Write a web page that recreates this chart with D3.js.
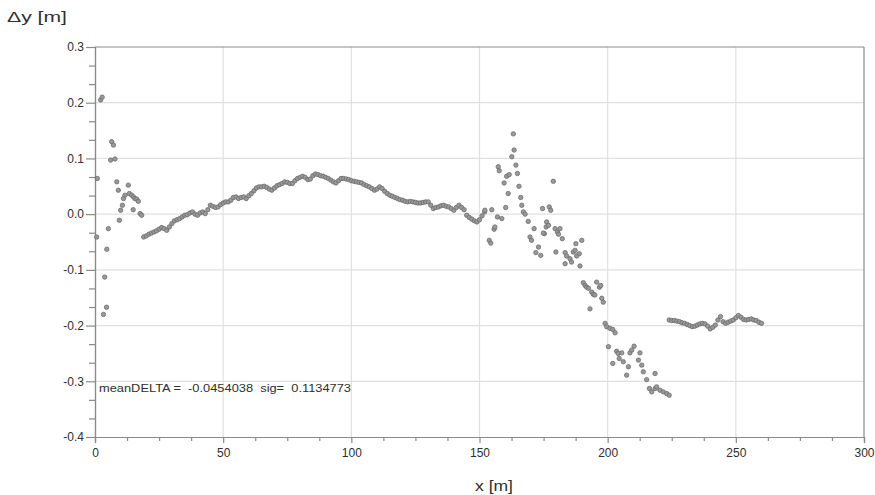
<!DOCTYPE html>
<html>
<head>
<meta charset="utf-8">
<script src="https://cdn.jsdelivr.net/npm/d3@7"></script>
<style>
  html, body { margin: 0; padding: 0; background: #ffffff; }
  svg { display: block; font-family: "Liberation Sans", Arial, sans-serif; }
</style>
</head>
<body>
<svg id="chart" width="875" height="495"></svg>
<script>
// Deviation profile Δy along x, values in metres as [x, Δy]

// erratic start of the profile
const headPoints = [
  [0.65, -0.041], [0.9, 0.064], [2.2, 0.205], [2.8, 0.210], [3.3, -0.180],
  [3.8, -0.113], [4.5, -0.167], [4.6, -0.063], [5.2, -0.026], [6.1, 0.097],
  [6.5, 0.130], [7.2, 0.124], [7.8, 0.099], [8.5, 0.058], [9.1, 0.043],
  [9.5, -0.011], [10.0, 0.007], [10.7, 0.016], [11.1, 0.028], [11.7, 0.034],
  [13.0, 0.052], [13.4, 0.037], [14.3, 0.034], [14.9, 0.008], [15.0, 0.031],
  [15.6, 0.028], [16.3, 0.027], [16.9, 0.023], [17.6, 0.001], [18.2, -0.002]
];

// smooth central stretch
const mainPoints = [
  [19, -0.041], [20, -0.039], [21, -0.036], [22, -0.034], [23, -0.032], [24, -0.030],
  [25, -0.027], [26, -0.024], [27, -0.026], [28, -0.029], [29, -0.023], [30, -0.017],
  [31, -0.012], [32, -0.010], [33, -0.008], [34, -0.005], [35, -0.002], [36, -0.001],
  [37, 0.002], [38, 0.004], [39, 0.000], [40, -0.002], [41, 0.002], [42, 0.004],
  [43, 0.001], [44, 0.008], [45, 0.016], [46, 0.014], [47, 0.012], [48, 0.013],
  [49, 0.017], [50, 0.020], [51, 0.022], [52, 0.022], [53, 0.025], [54, 0.030],
  [55, 0.031], [56, 0.028], [57, 0.030], [58, 0.031], [59, 0.028], [60, 0.033],
  [61, 0.037], [62, 0.042], [63, 0.047], [64, 0.049], [65, 0.049], [66, 0.050],
  [67, 0.048], [68, 0.045], [69, 0.043], [70, 0.047], [71, 0.051], [72, 0.053],
  [73, 0.055], [74, 0.058], [75, 0.057], [76, 0.055], [77, 0.055], [78, 0.060],
  [79, 0.064], [80, 0.066], [81, 0.068], [82, 0.066], [83, 0.062], [84, 0.063],
  [85, 0.069], [86, 0.072], [87, 0.071], [88, 0.069], [89, 0.068], [90, 0.066],
  [91, 0.064], [92, 0.061], [93, 0.058], [94, 0.056], [95, 0.060], [96, 0.064],
  [97, 0.064], [98, 0.063], [99, 0.062], [100, 0.060], [101, 0.059], [102, 0.058],
  [103, 0.057], [104, 0.056], [105, 0.053], [106, 0.051], [107, 0.049], [108, 0.046],
  [109, 0.043], [110, 0.045], [111, 0.049], [112, 0.046], [113, 0.041], [114, 0.037],
  [115, 0.034], [116, 0.032], [117, 0.030], [118, 0.028], [119, 0.026], [120, 0.025],
  [121, 0.023], [122, 0.022], [123, 0.023], [124, 0.022], [125, 0.021], [126, 0.020],
  [127, 0.020], [128, 0.021], [129, 0.022], [130, 0.022], [131, 0.016], [132, 0.010],
  [133, 0.012], [134, 0.013], [135, 0.015], [136, 0.016], [137, 0.014], [138, 0.013],
  [139, 0.010], [140, 0.007], [141, 0.012], [142, 0.016], [143, 0.012], [144, 0.008],
  [145, -0.002], [146, -0.006], [147, -0.009], [148, -0.012], [149, -0.014], [150, -0.010],
  [151, -0.003], [152, 0.004]
];

// scattered descent
const scatterPoints = [
  [152.1, 0.007], [154.8, 0.008], [153.8, -0.047], [154.4, -0.052], [155.7, -0.027],
  [156.0, -0.023], [157.0, -0.005], [158.7, -0.008], [157.3, 0.085], [157.7, 0.078],
  [159.6, 0.056], [160.2, 0.012], [160.6, 0.068], [161.6, 0.071], [161.2, 0.037],
  [162.6, 0.103], [163.2, 0.144], [163.5, 0.115], [164.2, 0.088], [164.8, 0.073],
  [165.4, 0.050], [166.1, 0.030], [166.5, 0.016], [167.1, 0.004], [167.8, 0.000],
  [169.0, -0.013], [169.7, -0.041], [170.3, -0.047], [171.3, -0.026], [172.0, -0.069],
  [173.0, -0.059], [173.9, -0.074], [174.6, 0.010], [175.3, -0.035], [174.9, -0.034],
  [176.0, -0.023], [176.2, -0.014], [176.9, -0.020], [177.2, 0.013], [177.8, 0.007],
  [178.8, 0.059], [179.5, -0.026], [179.8, -0.068], [180.4, -0.032], [180.8, -0.036],
  [181.4, -0.026], [182.3, -0.044], [183.4, -0.069], [183.4, -0.089], [184.0, -0.075],
  [185.3, -0.080], [185.9, -0.086], [186.6, -0.068], [187.3, -0.065], [187.6, -0.053],
  [187.9, -0.075], [188.9, -0.071], [189.2, -0.093], [189.9, -0.047], [190.5, -0.123],
  [191.2, -0.128], [191.8, -0.131], [192.5, -0.133], [193.1, -0.170], [193.8, -0.140],
  [194.4, -0.144], [195.0, -0.145], [195.7, -0.122], [196.8, -0.131], [197.3, -0.128],
  [197.7, -0.151], [198.3, -0.158], [199.0, -0.196], [199.6, -0.202], [200.3, -0.238],
  [200.9, -0.205], [202.0, -0.207], [202.0, -0.268], [202.9, -0.213], [203.5, -0.246],
  [204.1, -0.250], [204.5, -0.259], [205.5, -0.249], [206.1, -0.265], [207.4, -0.289],
  [208.1, -0.274], [208.7, -0.249], [209.4, -0.244], [210.3, -0.237], [212.0, -0.262],
  [212.6, -0.249], [213.3, -0.271], [213.9, -0.283], [215.2, -0.297], [216.3, -0.313],
  [217.2, -0.319], [218.5, -0.313], [218.5, -0.286], [219.1, -0.310], [220.4, -0.316],
  [221.7, -0.319], [223.0, -0.322], [224.0, -0.325]
];

// level stretch at the end
const tailPoints = [
  [224, -0.190], [225, -0.191], [226, -0.191], [227, -0.192], [228, -0.193], [229, -0.195],
  [230, -0.196], [231, -0.198], [232, -0.200], [233, -0.202], [234, -0.201], [235, -0.199],
  [236, -0.197], [237, -0.196], [238, -0.197], [239, -0.201], [240, -0.206], [241, -0.203],
  [242, -0.199], [243, -0.190], [244, -0.184], [245, -0.193], [246, -0.196], [247, -0.194],
  [248, -0.192], [249, -0.190], [250, -0.186], [251, -0.182], [252, -0.185], [253, -0.189],
  [254, -0.190], [255, -0.189], [256, -0.188], [257, -0.190], [258, -0.191], [259, -0.194],
  [260, -0.196]
];

const xTicks = [0, 50, 100, 150, 200, 250, 300];
const xTickLabels = ["0", "50", "100", "150", "200", "250", "300"];
const yTicks = [-0.4, -0.3, -0.2, -0.1, 0.0, 0.1, 0.2, 0.3];
const yTickLabels = ["-0.4", "-0.3", "-0.2", "-0.1", "0.0", "0.1", "0.2", "0.3"];

const yAxisTitle = "\u0394y [m]";
const xAxisTitle = "x [m]";
const statsText = "meanDELTA =  -0.0454038  sig=  0.1134773";

const svg = d3.select("#chart");
const W = 875, H = 495;
const margin = { left: 95, right: 11, top: 47, bottom: 58 };

const x = d3.scaleLinear().domain([0, 300]).range([margin.left, W - margin.right]);
const y = d3.scaleLinear().domain([-0.4, 0.3]).range([H - margin.bottom, margin.top]);

const axisColor = "#8a8a8a";
const gridColor = "#e0e0e0";
const textColor = "#2e2e2e";

// grid
const grid = svg.append("g");
grid.selectAll("line.vx").data(xTicks.slice(1, -1)).join("line")
  .attr("x1", d => x(d)).attr("x2", d => x(d))
  .attr("y1", y(0.3)).attr("y2", y(-0.4))
  .attr("stroke", gridColor).attr("stroke-width", 1.2);
grid.selectAll("line.hy").data(yTicks.slice(1, -1)).join("line")
  .attr("x1", x(0)).attr("x2", x(300))
  .attr("y1", d => y(d)).attr("y2", d => y(d))
  .attr("stroke", gridColor).attr("stroke-width", 1.2);

// frame on top and right
svg.append("line").attr("x1", x(0)).attr("x2", x(300)).attr("y1", y(0.3)).attr("y2", y(0.3))
  .attr("stroke", axisColor).attr("stroke-width", 1.2);
svg.append("line").attr("x1", x(300)).attr("x2", x(300)).attr("y1", y(0.3)).attr("y2", y(-0.4))
  .attr("stroke", axisColor).attr("stroke-width", 1.2);

// minor ticks
const xMinor = d3.range(0, 300.1, 12.5).filter(v => v % 50 !== 0);
const yMinor = d3.range(-12, 10).map(i => i / 30).filter(v => Math.abs(v * 10 - Math.round(v * 10)) > 1e-6);

const xMinorAxis = svg.append("g").attr("transform", `translate(0,${y(-0.4)})`)
  .call(d3.axisBottom(x).tickValues(xMinor).tickSize(4).tickFormat(""));
const yMinorAxis = svg.append("g").attr("transform", `translate(${x(0)},0)`)
  .call(d3.axisLeft(y).tickValues(yMinor).tickSize(6).tickFormat(""));

// major axes
const xAxis = svg.append("g").attr("transform", `translate(0,${y(-0.4)})`)
  .call(d3.axisBottom(x).tickValues(xTicks).tickSize(6).tickPadding(5)
    .tickFormat((d, i) => xTickLabels[i]));
const yAxis = svg.append("g").attr("transform", `translate(${x(0)},0)`)
  .call(d3.axisLeft(y).tickValues(yTicks).tickSize(9).tickPadding(2)
    .tickFormat((d, i) => yTickLabels[i]));

[xMinorAxis, yMinorAxis, xAxis, yAxis].forEach(g => {
  g.select(".domain").attr("stroke", axisColor).attr("stroke-width", 1.2);
  g.selectAll(".tick line").attr("stroke", axisColor).attr("stroke-width", 1.2);
  g.selectAll(".tick text").attr("fill", textColor)
    .style("font-family", "'Liberation Sans', Arial, sans-serif")
    .style("font-size", "12px");
});

// data points
const allPoints = headPoints.concat(mainPoints, scatterPoints, tailPoints);
svg.append("g").selectAll("circle").data(allPoints).join("circle")
  .attr("cx", d => x(d[0]))
  .attr("cy", d => y(d[1]))
  .attr("r", 2.2)
  .attr("fill", "#999999")
  .attr("stroke", "#6c6c6c")
  .attr("stroke-width", 0.8);

// statistics note
svg.append("text")
  .attr("x", 99).attr("y", 392)
  .attr("fill", textColor)
  .attr("textLength", 252)
  .attr("lengthAdjust", "spacingAndGlyphs")
  .style("font-size", "11.5px")
  .style("white-space", "pre")
  .text(statsText);

// axis titles
svg.append("text")
  .attr("x", 7).attr("y", 22)
  .attr("fill", textColor)
  .attr("textLength", 60)
  .attr("lengthAdjust", "spacingAndGlyphs")
  .style("font-size", "15px")
  .text(yAxisTitle);
svg.append("text")
  .attr("x", 475).attr("y", 491)
  .attr("fill", textColor)
  .attr("textLength", 38)
  .attr("lengthAdjust", "spacingAndGlyphs")
  .style("font-size", "15px")
  .text(xAxisTitle);
</script>
</body>
</html>
